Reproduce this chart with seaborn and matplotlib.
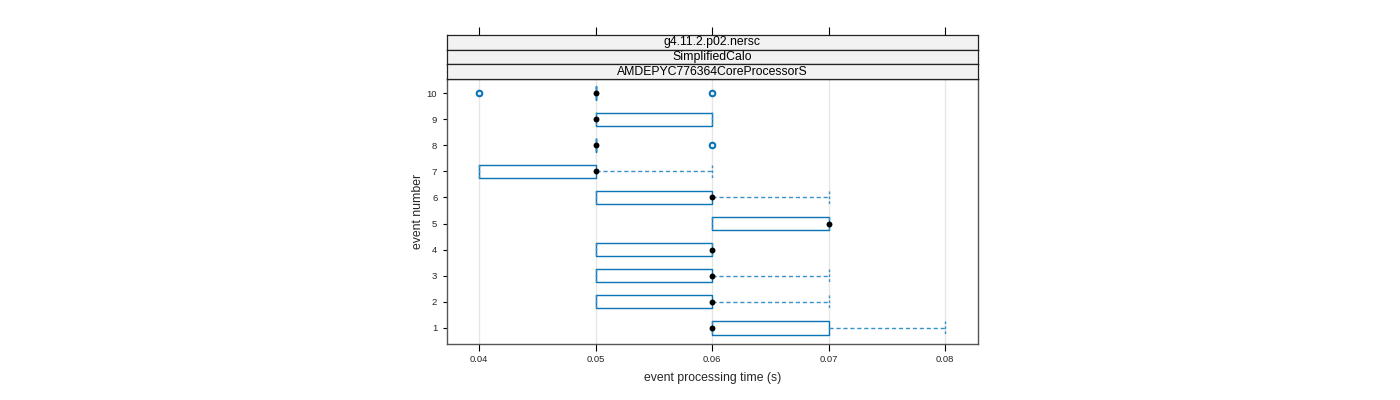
import numpy as np
import pandas as pd
import matplotlib
matplotlib.use("Agg")
import matplotlib.pyplot as plt
import seaborn as sns

# Per-event processing times (s), reconstructed from the box statistics
events = ["1", "2", "3", "4", "5", "6", "7", "8", "9", "10"]
times_1 = [0.06] * 5 + [0.07] * 3 + [0.08] * 1
times_2 = [0.05] * 3 + [0.06] * 5 + [0.07] * 1
times_3 = [0.05] * 3 + [0.06] * 5 + [0.07] * 1
times_4 = [0.05] * 3 + [0.06] * 6
times_5 = [0.06] * 3 + [0.07] * 6
times_6 = [0.05] * 3 + [0.06] * 5 + [0.07] * 1
times_7 = [0.04] * 3 + [0.05] * 5 + [0.06] * 1
times_8 = [0.05] * 8 + [0.06] * 1
times_9 = [0.05] * 5 + [0.06] * 4
times_10 = [0.04] * 1 + [0.05] * 7 + [0.06] * 1
all_times = [times_1, times_2, times_3, times_4, times_5,
             times_6, times_7, times_8, times_9, times_10]

strip_labels = ["g4.11.2.p02.nersc", "SimplifiedCalo", "AMDEPYC776364CoreProcessorS"]
x_ticks = [0.04, 0.05, 0.06, 0.07, 0.08]
x_label = "event processing time (s)"
y_label = "event number"

df = pd.DataFrame({
    "event": [e for e, t in zip(events, all_times) for _ in t],
    "time": [v for t in all_times for v in t],
})

sns.set_theme(style="white")
plt.rcParams["font.family"] = ["Liberation Sans", "DejaVu Sans"]

BLUE = "#0a74b6"
WHISK = "#3a92c8"
fig = plt.figure(figsize=(14, 4), dpi=100)
L, R = 447 / 1400, 978 / 1400
B, T = (400 - 344) / 400, (400 - 79) / 400
ax = fig.add_axes([L, B, R - L, T - B])

order = events[::-1]
sns.boxplot(data=df, x="time", y="event", order=order, orient="h", ax=ax,
            width=0.5, whis=1.5, fill=False, color=BLUE, linewidth=1,
            linecolor=BLUE, capwidths=0.52,
            whiskerprops=dict(color=WHISK, linestyle=(0, (3, 2)), linewidth=1),
            capprops=dict(color=WHISK, linestyle=(0, (2, 1.5)), linewidth=1),
            medianprops=dict(visible=False),
            flierprops=dict(marker="o", markerfacecolor="none",
                            markeredgecolor=BLUE, markeredgewidth=1.5,
                            markersize=4))

med = df.groupby("event", sort=False)["time"].median().reset_index()
sns.scatterplot(data=med, x="time", y="event", ax=ax, color="black",
                s=18, edgecolor="black", linewidth=0, zorder=5, legend=False)

ax.set_xlim(0.03725, 0.08283)
ax.set_ylim(9 + 16 / 26.1, -14 / 26.1)
ax.set_xticks(x_ticks)
ax.set_xticklabels([f"{v:.2f}" for v in x_ticks], fontsize=6.8)
ax.tick_params(axis="y", labelsize=6.8, length=3, width=0.8, color="black", direction="out", left=True, pad=4)
ax.tick_params(axis="x", length=5, width=0.8, color="black", direction="out", bottom=True, pad=3)
for v in x_ticks:
    ax.axvline(v, color="#e6e6e6", linewidth=1, zorder=0)
ax.set_xlabel(x_label, fontsize=8.8, labelpad=6)
ax.set_ylabel(y_label, fontsize=8.8, labelpad=2)
for s in ax.spines.values():
    s.set_color("#555555")
    s.set_linewidth(1)

# strips
sh = 14.7 / 400
for i, lab in enumerate(strip_labels):
    top = (400 - 35) / 400 - i * sh
    sax = fig.add_axes([L, top - sh, R - L, sh])
    sax.set_facecolor("#f2f2f2")
    sax.set_xlim(ax.get_xlim())
    sax.set_xticks([])
    sax.set_yticks([])
    for s in sax.spines.values():
        s.set_color("#222222")
        s.set_linewidth(0.9)
    sax.text(0.5, 0.5, lab, ha="center", va="center", fontsize=8.8,
             transform=sax.transAxes, color="black")
    if i == 0:
        sax.set_xticks(x_ticks)
        sax.tick_params(axis="x", top=True, bottom=False, labeltop=False,
                        labelbottom=False, length=6, width=0.8,
                        color="black", direction="out")

fig.savefig("out.png", dpi=100)
